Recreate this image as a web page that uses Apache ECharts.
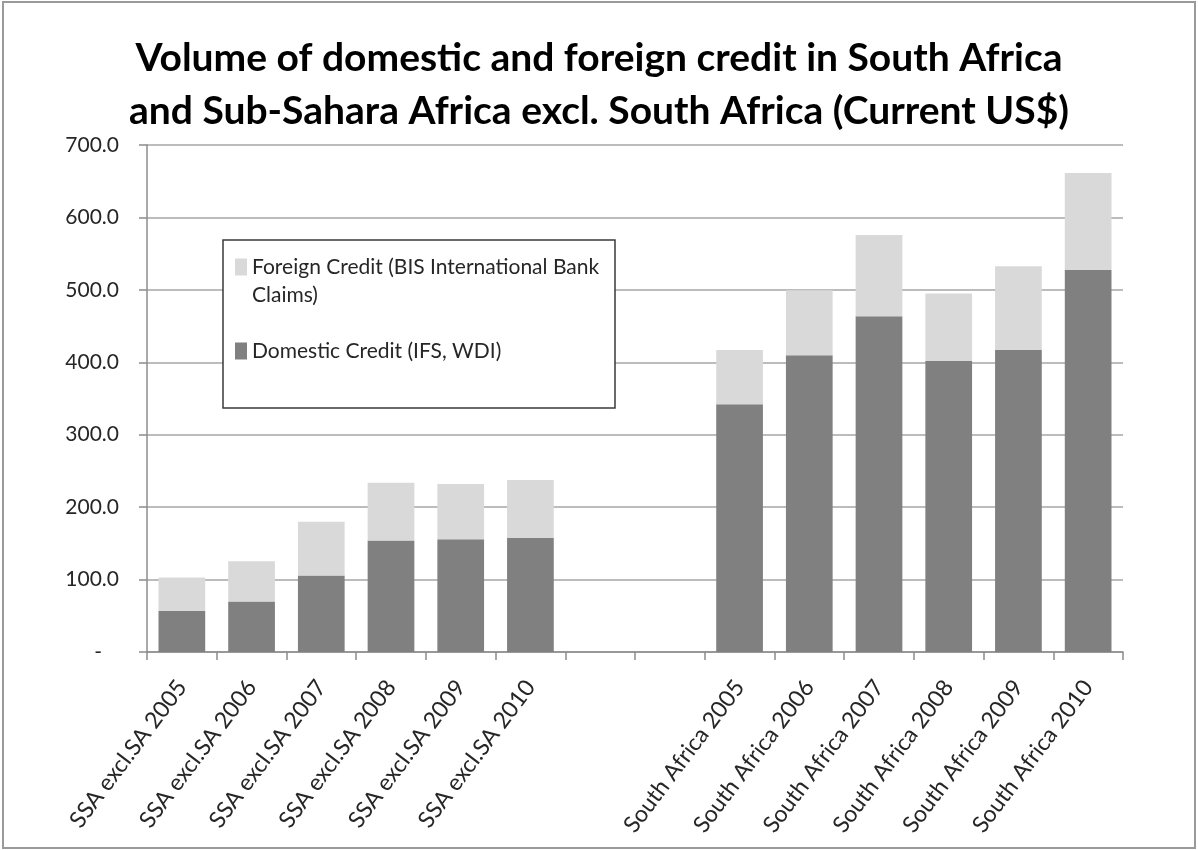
<!DOCTYPE html>
<html>
<head>
<meta charset="utf-8">
<title>Volume of domestic and foreign credit</title>
<script src="https://cdn.jsdelivr.net/npm/echarts@6/dist/echarts.min.js"></script>
<style>
  html, body { margin: 0; padding: 0; background: #ffffff; }
  #chart { width: 1198px; height: 850px; }
</style>
</head>
<body>
<div id="chart"></div>
<script>
// Category slots: six SSA years, two empty spacer slots, six South Africa years
const categories = [
  'SSA excl.SA 2005', 'SSA excl.SA 2006', 'SSA excl.SA 2007',
  'SSA excl.SA 2008', 'SSA excl.SA 2009', 'SSA excl.SA 2010',
  '', ' ',
  'South Africa 2005', 'South Africa 2006', 'South Africa 2007',
  'South Africa 2008', 'South Africa 2009', 'South Africa 2010'
];

// Domestic credit (IFS, WDI), current US$ bn
const domesticCredit = [56.5, 69.8, 105.5, 153.8, 155.6, 157.5, null, null,
  342.0, 409.6, 463.5, 402.0, 417.3, 527.4];

// Foreign credit (BIS international bank claims), stacked on top
const foreignCredit = [46.5, 55.6, 74.3, 79.9, 76.2, 80.0, null, null,
  74.8, 89.7, 112.1, 93.0, 115.4, 134.0];

const yTicks = { min: 0, max: 700, interval: 100 };

const FOREIGN = 'Foreign Credit (BIS International Bank\nClaims)';
const DOMESTIC = 'Domestic Credit (IFS, WDI)';
const FONT = 'Lato, "Open Sans", sans-serif';

const chart = echarts.init(document.getElementById('chart'));

chart.setOption({
  backgroundColor: '#ffffff',
  animation: false,
  textStyle: { fontFamily: FONT },
  title: {
    text: 'Volume of domestic and foreign credit in South Africa\nand Sub-Sahara Africa excl. South Africa (Current US$)',
    left: 'center',
    top: 32,
    padding: 0,
    textStyle: {
      fontFamily: FONT,
      fontSize: 39,
      fontWeight: 'bold',
      lineHeight: 53,
      color: '#000000'
    }
  },
  graphic: [
    {
      type: 'rect',
      z: 1,
      silent: true,
      shape: { x: 3, y: 2, width: 1192, height: 846 },
      style: { fill: 'none', stroke: '#9a9a9a', lineWidth: 2 }
    },
    {
      type: 'rect',
      z: 3,
      silent: true,
      shape: { x: 223, y: 240, width: 392, height: 168 },
      style: { fill: '#ffffff', stroke: '#3a3a3a', lineWidth: 1.5 }
    }
  ],
  legend: {
    orient: 'vertical',
    left: 235,
    top: 225,
    padding: 0,
    itemGap: 28,
    itemWidth: 12,
    itemHeight: 17,
    icon: 'rect',
    z: 4,
    data: [
      { name: FOREIGN },
      { name: DOMESTIC }
    ],
    formatter: function (name) {
      return name === FOREIGN ? '\n' + name : name;
    },
    textStyle: {
      fontFamily: FONT,
      fontSize: 21,
      lineHeight: 28,
      color: '#262626'
    }
  },
  grid: {
    left: 147,
    right: 75,
    top: 145,
    bottom: 198,
    containLabel: false
  },
  xAxis: {
    type: 'category',
    data: categories,
    axisLine: { show: true, lineStyle: { color: '#8c8c8c', width: 1.5 } },
    axisTick: { show: true, length: 8, interval: 0, lineStyle: { color: '#8c8c8c', width: 1.5 } },
    axisLabel: {
      interval: 0,
      rotate: 53,
      margin: 31,
      fontFamily: FONT,
      fontSize: 23,
      color: '#262626'
    },
    splitLine: { show: false }
  },
  yAxis: {
    type: 'value',
    min: yTicks.min,
    max: yTicks.max,
    interval: yTicks.interval,
    axisLine: { show: true, lineStyle: { color: '#8c8c8c', width: 1.5 } },
    axisTick: { show: true, length: 8, lineStyle: { color: '#8c8c8c', width: 1.5 } },
    splitLine: { show: true, lineStyle: { color: '#a6a6a6', width: 1.5 } },
    axisLabel: {
      margin: 28,
      fontFamily: FONT,
      fontSize: 21,
      color: '#262626',
      formatter: function (v) {
        return v === 0 ? '{z|-}' : v.toFixed(1);
      },
      rich: {
        z: { fontFamily: FONT, fontSize: 21, color: '#262626', padding: [0, 17, 0, 0] }
      }
    }
  },
  series: [
    {
      name: DOMESTIC,
      type: 'bar',
      stack: 'credit',
      barCategoryGap: '33%',
      data: domesticCredit,
      itemStyle: { color: '#808080' }
    },
    {
      name: FOREIGN,
      type: 'bar',
      stack: 'credit',
      barCategoryGap: '33%',
      data: foreignCredit,
      itemStyle: { color: '#d9d9d9' }
    }
  ]
});
</script>
</body>
</html>
